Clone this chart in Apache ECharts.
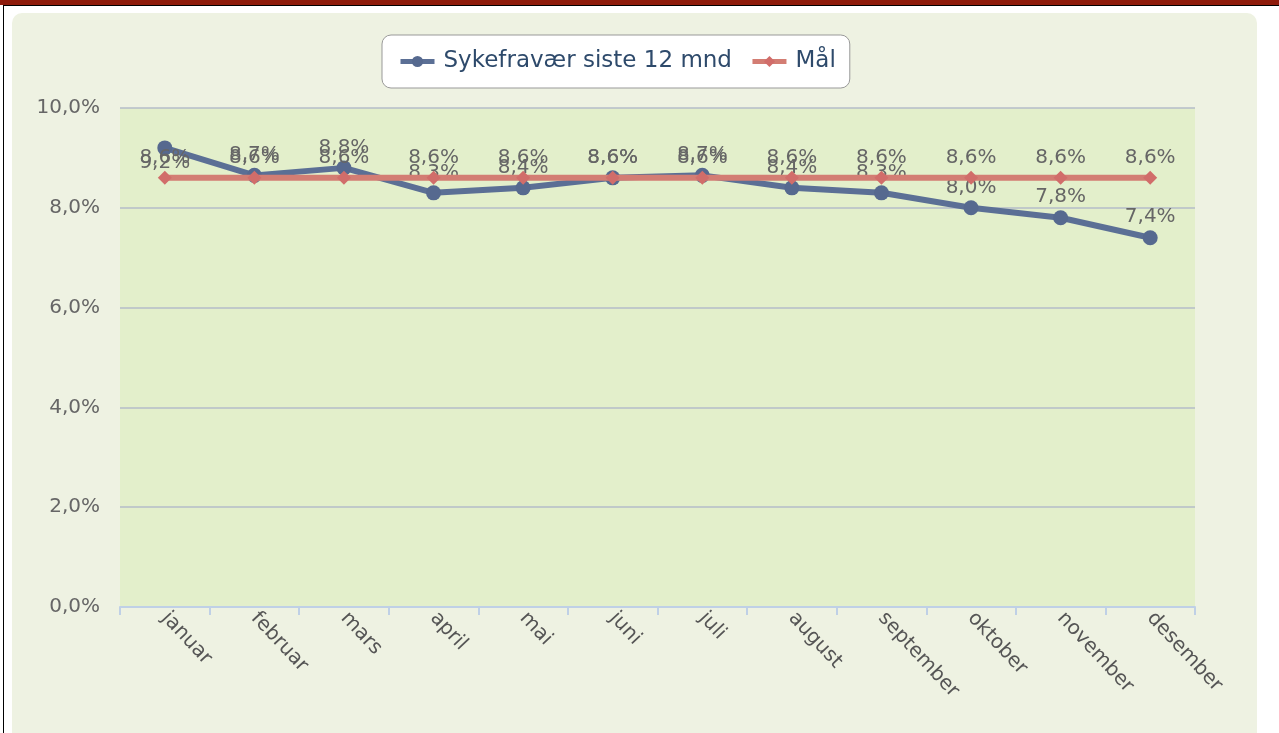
<!DOCTYPE html>
<html>
<head>
<meta charset="utf-8">
<script src="https://cdn.jsdelivr.net/npm/echarts@6/dist/echarts.min.js"></script>
<style>
  body { margin: 0; background: #fff; }
  #topbar { position: absolute; left: 0; top: 0; width: 1279px; height: 5px; background: #8e1b0b; }
  #frame { position: absolute; left: 3px; top: 5px; width: 1290px; height: 740px; border-left: 1px solid #000; border-top: 1px solid #000; }
  #panel { position: absolute; left: 12px; top: 13px; width: 1245px; height: 740px; background: #eef2e2; border-radius: 10px; }
  #chart { position: absolute; left: 0; top: 0; width: 1279px; height: 733px; }
</style>
</head>
<body>
<div id="topbar"></div>
<div id="frame"></div>
<div id="panel"></div>
<div id="chart"></div>
<script>
// måneder
var months = ['januar', 'februar', 'mars', 'april', 'mai', 'juni', 'juli', 'august', 'september', 'oktober', 'november', 'desember'];
// sykefravær siste 12 mnd (%)
var sykefravaer = [9.2, 8.65, 8.8, 8.3, 8.4, 8.6, 8.65, 8.4, 8.3, 8.0, 7.8, 7.4];
// mål (%)
var maal = [8.6, 8.6, 8.6, 8.6, 8.6, 8.6, 8.6, 8.6, 8.6, 8.6, 8.6, 8.6];

function pct(v) {
    return v.toFixed(1).replace('.', ',') + '%';
}

var font = 'DejaVu Sans';
var labelStyle = {
    show: true, position: 'top', distance: 3, color: '#666', fontSize: 20,
    formatter: function (p) { return pct(p.value); }
};

// januar-etiketten ligger under punktet i originalen
var blueData = sykefravaer.map(function (v, i) {
    if (i === 0) return { value: v, label: { position: 'bottom', distance: -3 } };
    return v;
});

var option = {
    animation: false,
    textStyle: { fontFamily: font },
    legend: {
        left: 382,
        top: 35,
        padding: [15, 14, 15, 16],
        backgroundColor: '#fff',
        borderColor: '#999',
        borderWidth: 1,
        borderRadius: 9,
        itemWidth: 34,
        itemHeight: 14,
        itemGap: 18,
        lineStyle: { width: 5 },
        textStyle: { color: '#2e4a6b', fontSize: 23, fontFamily: font, padding: [0, 0, 0, 4] }
    },
    grid: {
        left: 120,
        right: 84,
        top: 108,
        bottom: 126,
        show: true,
        backgroundColor: '#e3efcb',
        borderWidth: 0
    },
    xAxis: {
        type: 'category',
        data: months,
        boundaryGap: true,
        axisLine: { lineStyle: { color: '#bfd0e6', width: 2 } },
        axisTick: { show: true, length: 8, lineStyle: { color: '#bfd0e6', width: 2 } },
        axisLabel: { rotate: -47, color: '#555', fontSize: 20, margin: 8, interval: 0 }
    },
    yAxis: {
        type: 'value',
        min: 0,
        max: 10,
        interval: 2,
        axisLine: { show: false },
        axisTick: { show: false },
        axisLabel: { color: '#666', fontSize: 20, margin: 20, formatter: pct },
        splitLine: { lineStyle: { color: '#b5bdc9', width: 1.5 } }
    },
    series: [
        {
            name: 'Sykefravær siste 12 mnd',
            type: 'line',
            data: blueData,
            z: 2,
            symbol: 'circle',
            symbolSize: 15,
            itemStyle: { color: '#56698f' },
            lineStyle: { color: '#5b6f95', width: 6 },
            label: labelStyle
        },
        {
            name: 'Mål',
            type: 'line',
            data: maal,
            z: 3,
            symbol: 'diamond',
            symbolSize: 14,
            itemStyle: { color: '#d16d6a' },
            lineStyle: { color: '#d37d73', width: 6 },
            label: labelStyle
        }
    ]
};

var chart = echarts.init(document.getElementById('chart'));
chart.setOption(option);
</script>
</body>
</html>
